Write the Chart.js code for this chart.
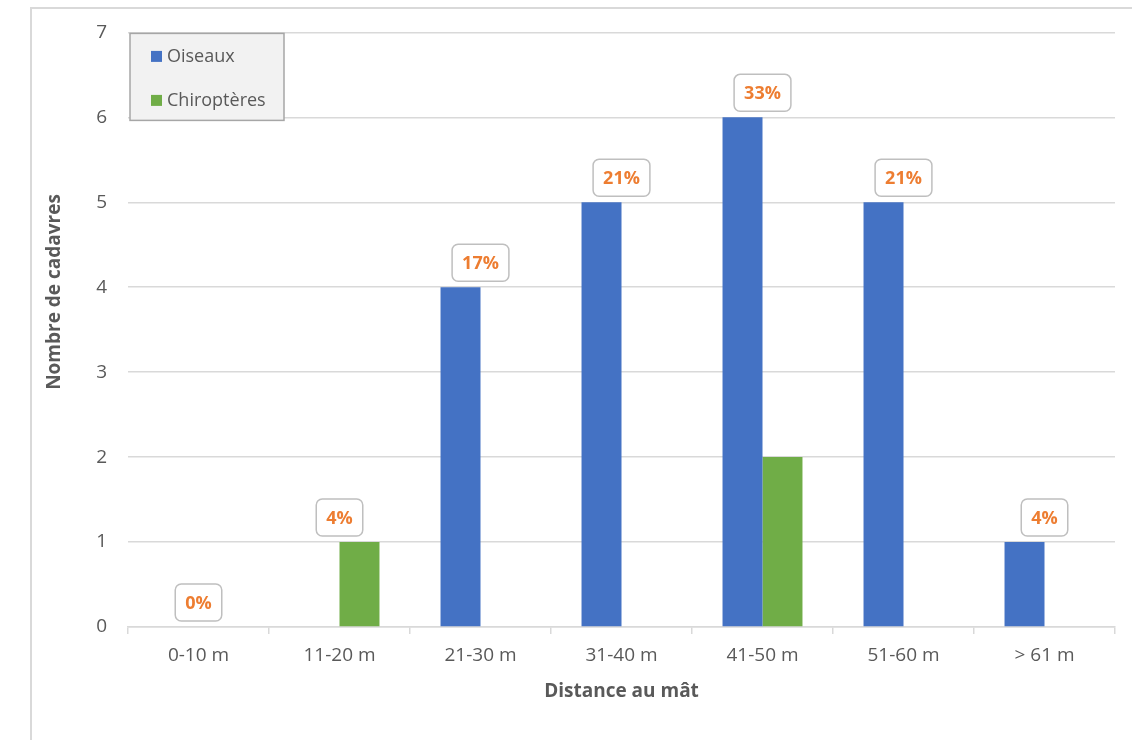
<!DOCTYPE html>
<html lang="fr">
<head>
<meta charset="utf-8">
<title>Distance au mât</title>
<script src="https://cdn.jsdelivr.net/npm/chart.js@4"></script>
<style>
  html, body { margin: 0; padding: 0; background: #ffffff; overflow: hidden; }
  #frame {
    position: absolute; left: 30px; top: 7px; width: 1200px; height: 800px;
    border-left: 2px solid #d9d9d9; border-top: 2px solid #d9d9d9;
  }
  #wrap { position: absolute; left: 0; top: 0; width: 1132px; height: 740px; }
</style>
</head>
<body>
<div id="frame"></div>
<div id="wrap"><canvas id="chart" width="1132" height="740"></canvas></div>
<script>
// Distance classes around the mast
const categories = ['0-10 m', '11-20 m', '21-30 m', '31-40 m', '41-50 m', '51-60 m', '> 61 m'];
// Number of carcasses found per class
const oiseaux = [0, 0, 4, 5, 6, 5, 1];
const chiropteres = [0, 1, 0, 0, 2, 0, 0];
const seriesNames = ['Oiseaux', 'Chiroptères'];
const yTicks = [0, 1, 2, 3, 4, 5, 6, 7];

const FONT = '"Open Sans", "Noto Sans", sans-serif';
const TEXT = '#595959';

// Share of all carcasses found in each distance class
const totals = categories.map((_, i) => oiseaux[i] + chiropteres[i]);
const grandTotal = totals.reduce((a, b) => a + b, 0);
const shares = totals.map(t => Math.round(t / grandTotal * 100));

function roundRect(ctx, x, y, w, h, r) {
  ctx.beginPath();
  ctx.moveTo(x + r, y);
  ctx.lineTo(x + w - r, y);
  ctx.arcTo(x + w, y, x + w, y + r, r);
  ctx.lineTo(x + w, y + h - r);
  ctx.arcTo(x + w, y + h, x + w - r, y + h, r);
  ctx.lineTo(x + r, y + h);
  ctx.arcTo(x, y + h, x, y + h - r, r);
  ctx.lineTo(x, y + r);
  ctx.arcTo(x, y, x + r, y, r);
  ctx.closePath();
}

// Percentage callouts above each distance class
const shareLabels = {
  id: 'shareLabels',
  afterDatasetsDraw(chart) {
    const ctx = chart.ctx;
    const xs = chart.scales.x, ys = chart.scales.y;
    ctx.save();
    ctx.font = 'bold 18px ' + FONT;
    ctx.textAlign = 'center';
    ctx.textBaseline = 'middle';
    shares.forEach((s, i) => {
      const top = Math.max(oiseaux[i], chiropteres[i]);
      const cx = xs.getPixelForValue(i);
      const base = ys.getPixelForValue(top) - 6;
      const txt = s + '%';
      const w = ctx.measureText(txt).width + 20;
      const h = 37;
      roundRect(ctx, cx - w / 2, base - h, w, h, 6);
      ctx.fillStyle = '#ffffff';
      ctx.fill();
      ctx.lineWidth = 1.5;
      ctx.strokeStyle = '#bfbfbf';
      ctx.stroke();
      ctx.fillStyle = '#ed7d31';
      ctx.fillText(txt, cx, base - h / 2 + 1);
    });
    ctx.restore();
  }
};

// Boxed legend inside the plot and the vertical axis title
const decorations = {
  id: 'decorations',
  afterDraw(chart) {
    const ctx = chart.ctx;
    const area = chart.chartArea;
    ctx.save();
    // legend box
    const lx = area.left + 2, ly = area.top + 1, lw = 154, lh = 87;
    ctx.fillStyle = '#f2f2f2';
    ctx.fillRect(lx, ly, lw, lh);
    ctx.lineWidth = 1.5;
    ctx.strokeStyle = '#a6a6a6';
    ctx.strokeRect(lx, ly, lw, lh);
    ctx.font = '18px ' + FONT;
    ctx.textBaseline = 'middle';
    ctx.textAlign = 'left';
    chart.data.datasets.forEach((ds, i) => {
      const cy = ly + 23 + i * 44;
      ctx.fillStyle = ds.backgroundColor;
      ctx.fillRect(lx + 21, cy - 5.5, 11, 11);
      ctx.fillStyle = TEXT;
      ctx.fillText(ds.label, lx + 37, cy);
    });
    // y axis title
    ctx.translate(55, 292);
    ctx.rotate(-Math.PI / 2);
    ctx.textAlign = 'center';
    ctx.font = 'bold 19px ' + FONT;
    ctx.fillStyle = TEXT;
    ctx.fillText('Nombre de cadavres', 0, 0);
    ctx.restore();
  }
};

new Chart(document.getElementById('chart'), {
  type: 'bar',
  data: {
    labels: categories,
    datasets: [
      { label: seriesNames[0], data: oiseaux, backgroundColor: '#4472c4', categoryPercentage: 0.567, barPercentage: 1.0 },
      { label: seriesNames[1], data: chiropteres, backgroundColor: '#70ad47', categoryPercentage: 0.567, barPercentage: 1.0 }
    ]
  },
  options: {
    responsive: false,
    animation: false,
    events: [],
    layout: { padding: { left: 40, top: 29, right: 17, bottom: 37 } },
    plugins: {
      legend: { display: false },
      tooltip: { enabled: false }
    },
    scales: {
      x: {
        afterFit(scale) { scale.height = 76; },
        grid: {
          display: true, drawOnChartArea: false, drawTicks: true, offset: true,
          tickLength: 7, color: '#d9d9d9', lineWidth: 1.5
        },
        border: { display: true, color: '#d9d9d9', width: 1.5 },
        ticks: { color: TEXT, font: { family: FONT, size: 19 }, padding: 10 },
        title: {
          display: true, text: 'Distance au mât', color: TEXT,
          font: { family: FONT, size: 19, weight: 'bold' }, padding: 0
        }
      },
      y: {
        min: 0, max: yTicks[yTicks.length - 1],
        afterFit(scale) { scale.width = 88; },
        afterBuildTicks(scale) { scale.ticks = yTicks.map(v => ({ value: v })); },
        grid: { color: '#d9d9d9', lineWidth: 1.5, drawTicks: false },
        border: { display: false },
        ticks: { color: TEXT, font: { family: FONT, size: 19 }, padding: 21 }
      }
    }
  },
  plugins: [shareLabels, decorations]
});
</script>
</body>
</html>
